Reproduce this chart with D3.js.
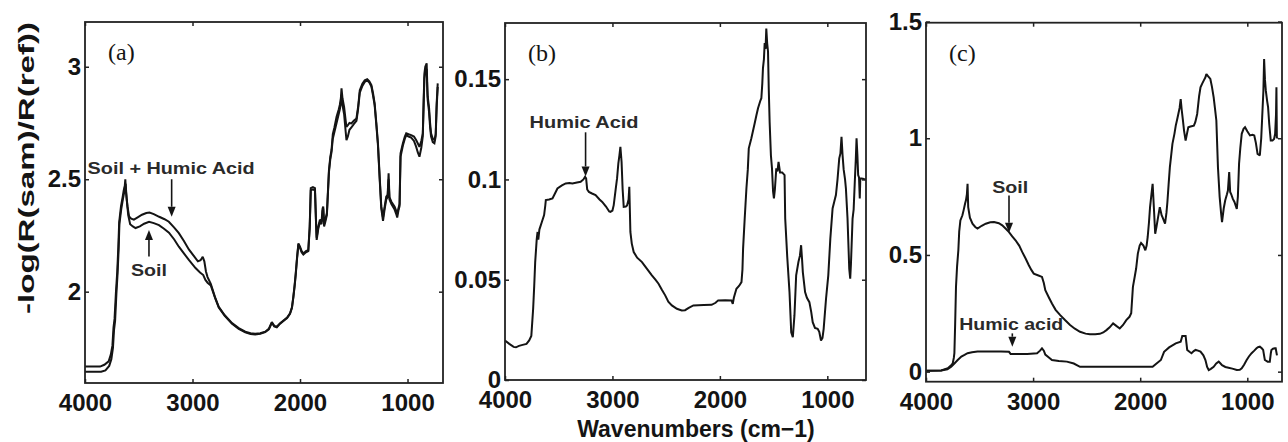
<!DOCTYPE html>
<html>
<head>
<meta charset="utf-8">
<script src="https://cdn.jsdelivr.net/npm/d3@7"></script>
<style>
  html, body { margin: 0; padding: 0; background: #fff; }
  svg { display: block; }
</style>
</head>
<body>
<svg id="chart" width="1288" height="442"></svg>
<script>
// ---------------- DATA ----------------
const xTicks = [4000, 3000, 2000, 1000];
const yTicksA = [2, 2.5, 3];
const yTicksB = [0, 0.05, 0.1, 0.15];
const yTicksC = [0, 0.5, 1, 1.5];

// Panel (a): Soil + Humic Acid  [wavenumber, value]
const soilHumicA = [[4000,1.667],[3860,1.667],[3820,1.675],[3780,1.69],[3760,1.72],[3745,1.76],[3735,1.84],[3725,1.88],[3712,2.0],[3700,2.09],[3690,2.2],[3682,2.31],[3665,2.38],[3650,2.42],[3640,2.45],[3630,2.47],[3625,2.5],[3618,2.44],[3605,2.38],[3590,2.335],[3570,2.325],[3545,2.32],[3510,2.33],[3470,2.342],[3430,2.35],[3400,2.352],[3360,2.345],[3310,2.333],[3260,2.322],[3220,2.311],[3170,2.285],[3127,2.26],[3080,2.225],[3034,2.188],[2990,2.16],[2950,2.135],[2925,2.14],[2905,2.155],[2890,2.135],[2875,2.09],[2860,2.065],[2830,2.035],[2790,1.975],[2756,1.933],[2700,1.895],[2632,1.86],[2570,1.838],[2509,1.822],[2460,1.815],[2417,1.813],[2370,1.815],[2324,1.822],[2290,1.835],[2262,1.865],[2240,1.848],[2216,1.844],[2185,1.86],[2154,1.872],[2120,1.885],[2093,1.904],[2075,1.93],[2062,1.978],[2050,2.03],[2040,2.08],[2028,2.15],[2015,2.215],[2000,2.2],[1985,2.18],[1969,2.17],[1945,2.18],[1923,2.185],[1910,2.29],[1900,2.46],[1880,2.465],[1861,2.46],[1850,2.3],[1845,2.24],[1830,2.29],[1815,2.32],[1800,2.31],[1790,2.37],[1784,2.378],[1776,2.3],[1765,2.32],[1750,2.35],[1740,2.45],[1731,2.54],[1718,2.6],[1707,2.63],[1695,2.7],[1680,2.73],[1660,2.778],[1640,2.81],[1630,2.83],[1620,2.86],[1614,2.904],[1605,2.86],[1590,2.822],[1575,2.76],[1568,2.733],[1555,2.74],[1540,2.75],[1522,2.748],[1500,2.76],[1475,2.77],[1460,2.82],[1444,2.896],[1420,2.925],[1398,2.94],[1375,2.945],[1355,2.935],[1336,2.919],[1320,2.88],[1306,2.837],[1290,2.75],[1275,2.66],[1259,2.511],[1244,2.378],[1228,2.33],[1212,2.38],[1198,2.422],[1185,2.43],[1176,2.526],[1168,2.42],[1150,2.4],[1120,2.378],[1105,2.36],[1096,2.345],[1085,2.37],[1074,2.39],[1065,2.615],[1043,2.66],[1025,2.69],[1012,2.704],[990,2.7],[966,2.696],[940,2.69],[920,2.674],[905,2.66],[889,2.644],[872,2.67],[858,2.704],[850,2.85],[843,2.97],[835,3.0],[822,3.015],[815,2.9],[812,2.867],[800,2.82],[790,2.75],[781,2.704],[765,2.68],[750,2.675],[738,2.7],[729,2.837],[719,2.926]];

// Panel (a): Soil
const soilA = [[4000,1.644],[3850,1.644],[3810,1.65],[3775,1.67],[3755,1.7],[3740,1.75],[3730,1.83],[3720,1.87],[3708,1.99],[3697,2.08],[3687,2.19],[3680,2.3],[3662,2.37],[3648,2.41],[3636,2.44],[3628,2.47],[3622,2.48],[3612,2.41],[3598,2.34],[3580,2.3],[3555,2.29],[3530,2.283],[3490,2.29],[3450,2.302],[3404,2.311],[3360,2.305],[3312,2.296],[3265,2.28],[3219,2.262],[3170,2.232],[3127,2.2],[3080,2.17],[3034,2.141],[2972,2.105],[2930,2.085],[2900,2.074],[2880,2.052],[2860,2.04],[2830,2.028],[2790,1.972],[2756,1.93],[2700,1.892],[2632,1.857],[2570,1.835],[2509,1.819],[2460,1.812],[2417,1.81],[2370,1.813],[2324,1.82],[2290,1.833],[2262,1.862],[2240,1.846],[2216,1.842],[2185,1.858],[2154,1.87],[2120,1.883],[2093,1.902],[2075,1.928],[2062,1.975],[2050,2.025],[2040,2.075],[2028,2.145],[2015,2.21],[2000,2.195],[1985,2.175],[1969,2.165],[1945,2.175],[1923,2.18],[1910,2.28],[1900,2.45],[1880,2.455],[1861,2.45],[1850,2.29],[1845,2.23],[1830,2.28],[1815,2.31],[1800,2.3],[1790,2.36],[1784,2.37],[1776,2.29],[1765,2.31],[1750,2.34],[1740,2.44],[1731,2.53],[1718,2.59],[1707,2.62],[1695,2.68],[1680,2.71],[1660,2.75],[1640,2.79],[1630,2.81],[1620,2.84],[1614,2.875],[1605,2.83],[1590,2.79],[1575,2.71],[1568,2.674],[1555,2.69],[1540,2.72],[1522,2.73],[1500,2.745],[1475,2.76],[1460,2.81],[1444,2.885],[1420,2.915],[1398,2.932],[1375,2.94],[1355,2.93],[1336,2.912],[1320,2.87],[1306,2.83],[1290,2.74],[1275,2.65],[1259,2.5],[1244,2.37],[1228,2.315],[1212,2.37],[1198,2.41],[1185,2.42],[1176,2.5],[1168,2.41],[1150,2.39],[1120,2.365],[1105,2.345],[1096,2.33],[1085,2.36],[1074,2.38],[1065,2.6],[1043,2.65],[1025,2.68],[1012,2.695],[990,2.69],[966,2.685],[940,2.67],[920,2.645],[905,2.62],[889,2.6],[872,2.64],[858,2.69],[850,2.83],[843,2.95],[835,2.98],[822,2.99],[815,2.88],[812,2.85],[800,2.8],[790,2.73],[781,2.69],[765,2.665],[750,2.66],[738,2.69],[729,2.82],[719,2.91]];

// Panel (b): Humic Acid
const humicB = [[4000,0.0197],[3960,0.018],[3920,0.0165],[3898,0.0163],[3870,0.017],[3836,0.0175],[3800,0.018],[3775,0.0197],[3755,0.022],[3745,0.03],[3738,0.0355],[3728,0.047],[3719,0.0588],[3705,0.07],[3697,0.0738],[3690,0.07],[3680,0.075],[3657,0.0788],[3636,0.0822],[3625,0.087],[3620,0.0897],[3590,0.09],[3558,0.0905],[3535,0.093],[3512,0.0955],[3470,0.097],[3435,0.098],[3400,0.0982],[3373,0.098],[3330,0.0985],[3296,0.0988],[3270,0.1],[3255,0.1013],[3245,0.1005],[3235,0.095],[3219,0.0938],[3190,0.093],[3157,0.0922],[3120,0.09],[3095,0.0888],[3060,0.0865],[3030,0.084],[3019,0.0838],[3000,0.0845],[2988,0.0872],[2970,0.095],[2957,0.1005],[2945,0.108],[2935,0.112],[2926,0.1163],[2915,0.1088],[2905,0.095],[2895,0.0863],[2875,0.0865],[2864,0.087],[2850,0.09],[2843,0.0963],[2838,0.085],[2833,0.0738],[2820,0.068],[2802,0.0638],[2770,0.061],[2725,0.0588],[2680,0.0555],[2633,0.0522],[2600,0.05],[2571,0.048],[2540,0.045],[2509,0.0422],[2480,0.039],[2447,0.0372],[2400,0.0355],[2355,0.0347],[2324,0.0348],[2290,0.036],[2247,0.0372],[2200,0.0373],[2150,0.0374],[2077,0.0375],[2040,0.0385],[2016,0.0397],[1950,0.0398],[1892,0.0397],[1880,0.038],[1870,0.041],[1846,0.0455],[1820,0.047],[1799,0.0488],[1790,0.055],[1784,0.0655],[1769,0.0805],[1753,0.0955],[1740,0.105],[1731,0.1155],[1707,0.1205],[1676,0.128],[1660,0.132],[1645,0.1355],[1625,0.139],[1614,0.1405],[1605,0.148],[1599,0.1555],[1590,0.16],[1583,0.168],[1575,0.165],[1568,0.1752],[1560,0.168],[1552,0.1638],[1545,0.145],[1537,0.1288],[1525,0.112],[1515,0.1055],[1505,0.094],[1497,0.0905],[1488,0.095],[1475,0.1055],[1464,0.104],[1454,0.1088],[1440,0.1035],[1420,0.1035],[1398,0.1022],[1392,0.0805],[1373,0.0613],[1352,0.0438],[1336,0.0238],[1321,0.0213],[1306,0.0322],[1290,0.0522],[1269,0.0588],[1255,0.062],[1244,0.0672],[1235,0.06],[1228,0.0538],[1207,0.0438],[1190,0.041],[1167,0.0388],[1150,0.034],[1136,0.0288],[1115,0.026],[1090,0.0255],[1075,0.024],[1059,0.0197],[1045,0.021],[1034,0.0255],[1012,0.0405],[991,0.0522],[972,0.0705],[951,0.0855],[935,0.089],[920,0.0922],[905,0.1],[889,0.1105],[878,0.113],[868,0.1213],[858,0.112],[848,0.105],[835,0.1],[827,0.0955],[812,0.0805],[796,0.0555],[787,0.0505],[780,0.058],[765,0.0805],[755,0.085],[743,0.1005],[735,0.11],[728,0.1205],[720,0.112],[713,0.1022],[705,0.101],[698,0.0905],[693,0.1005],[680,0.1005],[660,0.1002],[642,0.1]];

// Panel (c): Soil
const soilC = [[4000,0.004],[3858,0.005],[3796,0.015],[3760,0.03],[3750,0.036],[3740,0.06],[3735,0.079],[3728,0.2],[3720,0.363],[3710,0.45],[3698,0.52],[3690,0.6],[3679,0.648],[3660,0.67],[3649,0.691],[3635,0.72],[3627,0.734],[3618,0.76],[3612,0.805],[3606,0.705],[3590,0.66],[3566,0.634],[3540,0.62],[3519,0.613],[3480,0.625],[3442,0.634],[3400,0.64],[3365,0.641],[3320,0.636],[3288,0.627],[3255,0.612],[3225,0.598],[3195,0.58],[3164,0.563],[3130,0.54],[3102,0.513],[3070,0.485],[3040,0.456],[3015,0.435],[2994,0.42],[2950,0.412],[2917,0.406],[2900,0.38],[2886,0.349],[2855,0.32],[2824,0.292],[2790,0.265],[2747,0.242],[2700,0.22],[2655,0.2],[2610,0.184],[2562,0.171],[2510,0.163],[2470,0.16],[2420,0.16],[2377,0.162],[2345,0.168],[2315,0.178],[2285,0.19],[2253,0.207],[2220,0.195],[2191,0.185],[2160,0.2],[2130,0.221],[2100,0.235],[2084,0.25],[2068,0.363],[2050,0.41],[2038,0.442],[2022,0.506],[2005,0.54],[1992,0.551],[1970,0.54],[1952,0.52],[1940,0.54],[1930,0.577],[1918,0.64],[1908,0.705],[1895,0.76],[1884,0.805],[1872,0.7],[1860,0.591],[1848,0.62],[1838,0.648],[1817,0.705],[1800,0.67],[1790,0.66],[1768,0.634],[1755,0.68],[1746,0.727],[1735,0.8],[1723,0.876],[1710,0.93],[1699,0.976],[1680,1.02],[1668,1.054],[1655,1.08],[1644,1.104],[1632,1.13],[1622,1.168],[1612,1.12],[1601,1.077],[1590,1.03],[1576,0.99],[1563,1.02],[1551,1.047],[1530,1.05],[1499,1.054],[1485,1.07],[1468,1.104],[1450,1.18],[1437,1.218],[1420,1.235],[1407,1.247],[1392,1.26],[1382,1.275],[1365,1.265],[1345,1.254],[1330,1.22],[1314,1.175],[1300,1.12],[1289,1.076],[1274,0.876],[1258,0.748],[1245,0.68],[1236,0.641],[1220,0.7],[1206,0.734],[1190,0.76],[1181,0.776],[1169,0.855],[1160,0.77],[1150,0.76],[1135,0.74],[1120,0.727],[1098,0.697],[1088,0.75],[1077,0.89],[1065,0.96],[1052,1.019],[1035,1.04],[1021,1.047],[1000,1.03],[975,1.012],[950,1.015],[935,1.012],[920,0.98],[904,0.933],[883,0.926],[870,1.0],[861,1.09],[850,1.2],[843,1.339],[835,1.25],[827,1.204],[815,1.16],[806,1.133],[795,1.06],[781,0.99],[765,0.99],[750,0.997],[740,1.02],[732,1.1],[728,1.218],[724,1.0],[718,1.005]];

// Panel (c): Humic acid
const humicC = [[4000,0.004],[3858,0.005],[3800,0.01],[3765,0.021],[3735,0.035],[3704,0.05],[3670,0.065],[3640,0.072],[3612,0.079],[3570,0.083],[3519,0.086],[3427,0.086],[3300,0.086],[3225,0.085],[3210,0.076],[3150,0.076],[3056,0.076],[2990,0.078],[2963,0.079],[2935,0.09],[2917,0.1],[2900,0.09],[2886,0.073],[2850,0.06],[2824,0.05],[2760,0.046],[2685,0.043],[2620,0.035],[2562,0.021],[2400,0.021],[2200,0.021],[2000,0.021],[1884,0.021],[1853,0.033],[1807,0.05],[1777,0.085],[1730,0.104],[1668,0.121],[1622,0.128],[1607,0.153],[1576,0.153],[1561,0.093],[1540,0.085],[1521,0.079],[1500,0.088],[1483,0.093],[1460,0.09],[1437,0.086],[1410,0.07],[1391,0.05],[1375,0.02],[1360,0.007],[1340,0.012],[1314,0.021],[1290,0.035],[1267,0.043],[1250,0.035],[1236,0.028],[1205,0.02],[1175,0.017],[1140,0.013],[1098,0.007],[1070,0.008],[1052,0.014],[1030,0.03],[1006,0.05],[985,0.065],[960,0.079],[935,0.09],[914,0.1],[900,0.105],[883,0.107],[865,0.1],[852,0.093],[840,0.06],[836,0.05],[810,0.043],[790,0.043],[780,0.08],[775,0.093],[760,0.098],[744,0.1],[735,0.1],[723,0.07]];

// ---------------- LAYOUT ----------------
const panels = [
  { id: "a", label: "(a)", left: 85,  right: 443,  top: 22,   bottom: 383,   xDom: [4000, 670], yDom: [1.594, 3.199], yTicks: yTicksA,
    series: [soilHumicA, soilA],
    texts: [ { t: "Soil + Humic Acid", wn: 3199, v: 2.523, len: 167 }, { t: "Soil", wn: 3405, v: 2.07, len: 36 } ],
    arrows: [ { wn: 3194, v1: 2.50, v2: 2.333 }, { wn: 3405, v1: 2.156, v2: 2.274 } ] },
  { id: "b", label: "(b)", left: 505, right: 866,  top: 23,   bottom: 380,   xDom: [4000, 640], yDom: [0, 0.178], yTicks: yTicksB,
    series: [humicB],
    texts: [ { t: "Humic Acid", wn: 3264, v: 0.1255, len: 109 } ],
    arrows: [ { wn: 3250, v1: 0.1235, v2: 0.1015 } ] },
  { id: "c", label: "(c)", left: 926, right: 1282, top: 22.7, bottom: 381.7, xDom: [4000, 676], yDom: [-0.043, 1.495], yTicks: yTicksC,
    series: [soilC, humicC],
    texts: [ { t: "Soil", wn: 3213, v: 0.766, len: 36 }, { t: "Humic acid", wn: 3204, v: 0.178, len: 104 } ],
    arrows: [ { wn: 3225, v1: 0.755, v2: 0.595 }, { wn: 3194, v1: 0.164, v2: 0.107 } ] }
];

const svg = d3.select("#chart");
const FONT = "'Liberation Sans', Arial, Helvetica, sans-serif";
const INK = "#141414";

panels.forEach(p => {
  const x = d3.scaleLinear().domain(p.xDom).range([p.left, p.right]);
  const y = d3.scaleLinear().domain(p.yDom).range([p.bottom, p.top]);
  const g = svg.append("g");

  // series
  const line = d3.line().x(d => x(d[0])).y(d => y(d[1])).curve(d3.curveLinear);
  p.series.forEach(s => {
    g.append("path").datum(s).attr("d", line)
      .attr("fill", "none").attr("stroke", INK).attr("stroke-width", 2)
      .attr("stroke-linejoin", "miter").attr("stroke-miterlimit", 2);
  });

  // axes: bottom & left with labels, top & right mirror ticks
  const ax = [
    { a: d3.axisBottom(x).tickValues(xTicks).tickSize(-4).tickPadding(11).tickFormat(d3.format("d")), tr: `translate(0,${p.bottom})` },
    { a: d3.axisTop(x).tickValues(xTicks).tickSize(-4).tickFormat(""), tr: `translate(0,${p.top})` },
    { a: d3.axisLeft(y).tickValues(p.yTicks).tickSize(-4).tickPadding(4).tickFormat(d => String(d)), tr: `translate(${p.left},0)` },
    { a: d3.axisRight(y).tickValues(p.yTicks).tickSize(-4).tickFormat(""), tr: `translate(${p.right},0)` }
  ];
  ax.forEach(o => {
    const ag = g.append("g").attr("transform", o.tr).call(o.a);
    ag.select(".domain").remove();
    ag.selectAll(".tick line").attr("stroke", "#222").attr("stroke-width", 1.5);
    ag.selectAll(".tick text").attr("fill", INK)
      .style("font-family", FONT).style("font-weight", "bold").style("font-size", "24px");
  });

  // frame
  g.append("rect").attr("x", p.left).attr("y", p.top)
    .attr("width", p.right - p.left).attr("height", p.bottom - p.top)
    .attr("fill", "none").attr("stroke", "#222").attr("stroke-width", 1.8);

  // panel label
  g.append("text").attr("x", p.left + 23).attr("y", p.top + 38)
    .text(p.label).attr("fill", INK)
    .style("font-family", "'Liberation Serif', 'Times New Roman', serif").style("font-size", "24px");

  // annotation texts
  p.texts.forEach(t => {
    g.append("text").attr("x", x(t.wn)).attr("y", y(t.v)).attr("text-anchor", "middle")
      .attr("textLength", t.len).attr("lengthAdjust", "spacingAndGlyphs")
      .text(t.t).attr("fill", "#2a2a2a")
      .style("font-family", FONT).style("font-weight", "bold").style("font-size", "16px");
  });

  // arrows
  p.arrows.forEach(a => {
    const ax0 = x(a.wn), y1 = y(a.v1), y2 = y(a.v2);
    const dir = y2 > y1 ? 1 : -1;
    const hl = 10, hw = 4;
    g.append("line").attr("x1", ax0).attr("x2", ax0).attr("y1", y1).attr("y2", y2 - dir * hl)
      .attr("stroke", INK).attr("stroke-width", 1.6);
    g.append("path")
      .attr("d", `M${ax0 - hw},${y2 - dir * hl} L${ax0 + hw},${y2 - dir * hl} L${ax0},${y2} Z`)
      .attr("fill", INK);
  });
});

// axis titles
svg.append("text")
  .attr("transform", "translate(34,168) rotate(-90)")
  .attr("text-anchor", "middle")
  .attr("textLength", 292).attr("lengthAdjust", "spacingAndGlyphs")
  .text("-log(R(sam)/R(ref))").attr("fill", INK)
  .style("font-family", FONT).style("font-weight", "bold").style("font-size", "22px");

svg.append("text")
  .attr("x", 696).attr("y", 437).attr("text-anchor", "middle")
  .text("Wavenumbers (cm\u22121)").attr("fill", INK)
  .style("font-family", FONT).style("font-weight", "bold").style("font-size", "23px");
</script>
</body>
</html>
